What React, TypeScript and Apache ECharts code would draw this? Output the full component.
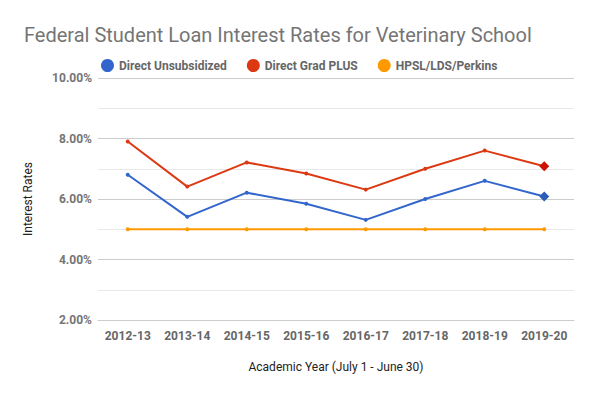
import React, { useEffect, useRef } from "react";
import * as echarts from "echarts";

const categories = ["2012-13", "2013-14", "2014-15", "2015-16", "2016-17", "2017-18", "2018-19", "2019-20"];
const directUnsub = [6.8, 5.41, 6.21, 5.84, 5.31, 6.0, 6.6, 6.08];
const gradPlus = [7.9, 6.41, 7.21, 6.84, 6.31, 7.0, 7.6, 7.08];
const perkins = [5.0, 5.0, 5.0, 5.0, 5.0, 5.0, 5.0, 5.0];
const yTicks = [2, 4, 6, 8, 10];

const FONT = "Roboto, 'Noto Sans', sans-serif";

function withLastDiamond(vals: number[], color: string) {
  return vals.map((v, i) =>
    i === vals.length - 1
      ? { value: v, symbol: "diamond", symbolSize: 10, itemStyle: { color } }
      : v
  );
}

export default function App() {
  const ref = useRef<HTMLDivElement>(null);
  useEffect(() => {
    if (!ref.current) return;
    const chart = echarts.init(ref.current, undefined, { renderer: "svg" });
    chart.setOption({
      animation: false,
      backgroundColor: "#ffffff",
      title: {
        text: "Federal Student Loan Interest Rates for Veterinary School",
        left: 19,
        top: 20,
        textStyle: { fontFamily: FONT, fontSize: 20, fontWeight: "normal", color: "#757575" },
      },
      legend: {
        top: 54,
        left: 96,
        icon: "circle",
        itemWidth: 13,
        itemHeight: 13,
        itemGap: 20,
        textStyle: { fontFamily: FONT, fontSize: 12, fontWeight: "bold", color: "#666666" },
        data: ["Direct Unsubsidized", "Direct Grad PLUS", "HPSL/LDS/Perkins"],
      },
      grid: { left: 98, right: 20, top: 78, bottom: 74, containLabel: false },
      xAxis: {
        type: "category",
        data: categories,
        boundaryGap: true,
        axisLine: { show: true, lineStyle: { color: "#cccccc" } },
        axisTick: { show: false },
        axisLabel: { interval: 0, fontFamily: FONT, fontSize: 12, fontWeight: "bold", color: "#666666", margin: 10 },
        name: "Academic Year (July 1 - June 30)",
        nameLocation: "middle",
        nameGap: 41,
        nameTextStyle: { fontFamily: FONT, fontSize: 12, color: "#222222" },
      },
      yAxis: {
        type: "value",
        min: yTicks[0],
        max: yTicks[yTicks.length - 1],
        interval: 2,
        axisLine: { show: false },
        axisTick: { show: false },
        axisLabel: {
          fontFamily: FONT,
          fontSize: 12,
          fontWeight: "bold",
          color: "#757575",
          margin: 6,
          formatter: (v: number) => v.toFixed(2) + "%",
        },
        splitLine: { show: true, lineStyle: { color: "#cccccc" } },
        minorTick: { show: false, splitNumber: 2 },
        minorSplitLine: { show: true, lineStyle: { color: "#e8e8e8" } },
        name: "Interest Rates",
        nameLocation: "middle",
        nameGap: 64,
        nameTextStyle: { fontFamily: FONT, fontSize: 12, color: "#222222" },
      },
      series: [
        {
          name: "Direct Unsubsidized",
          type: "line",
          data: withLastDiamond(directUnsub, "#2a5cb8"),
          color: "#3366cc",
          symbol: "circle",
          symbolSize: 4,
          lineStyle: { width: 2 },
        },
        {
          name: "Direct Grad PLUS",
          type: "line",
          data: withLastDiamond(gradPlus, "#cc1100"),
          color: "#dc3912",
          symbol: "circle",
          symbolSize: 4,
          lineStyle: { width: 2 },
        },
        {
          name: "HPSL/LDS/Perkins",
          type: "line",
          data: perkins,
          color: "#ff9900",
          symbol: "circle",
          symbolSize: 4,
          lineStyle: { width: 2 },
        },
      ],
    });
    return () => chart.dispose();
  }, []);
  return <div ref={ref} style={{ width: 594, height: 394, position: "absolute", left: 0, top: 0 }} />;
}
